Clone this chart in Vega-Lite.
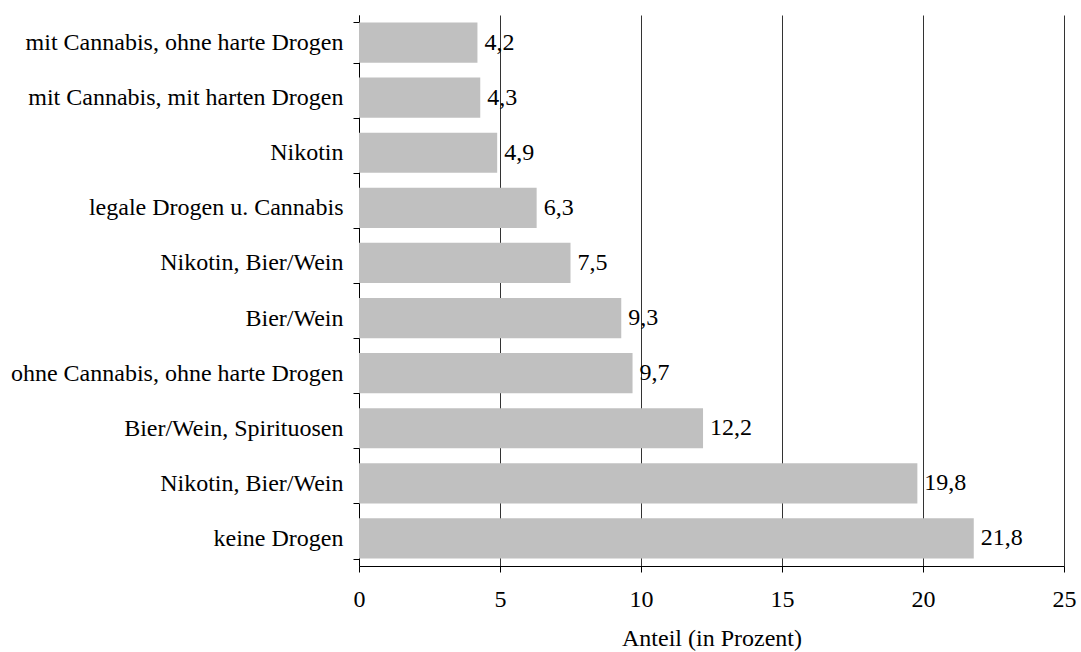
{
  "$schema": "https://vega.github.io/schema/vega-lite/v6.json",
  "autosize": {"type": "none"},
  "padding": {"left": 359, "top": 15, "right": 17, "bottom": 86},
  "width": 705,
  "height": 551,
  "config": {
    "font": "Liberation Serif",
    "view": {"stroke": null},
    "locale": {"number": {"decimal": ",", "thousands": ".", "grouping": [3], "currency": ["", " €"]}}
  },
  "data": {
    "values": [
      {"kategorie": "mit Cannabis, ohne harte Drogen", "anteil": 4.2},
      {"kategorie": "mit Cannabis, mit harten Drogen", "anteil": 4.3},
      {"kategorie": "Nikotin", "anteil": 4.9},
      {"kategorie": "legale Drogen u. Cannabis", "anteil": 6.3},
      {"kategorie": "Nikotin, Bier/Wein", "anteil": 7.5},
      {"kategorie": "Bier/Wein", "anteil": 9.3},
      {"kategorie": "ohne Cannabis, ohne harte Drogen", "anteil": 9.7},
      {"kategorie": "Bier/Wein, Spirituosen", "anteil": 12.2},
      {"kategorie": "Nikotin, Bier/Wein ", "anteil": 19.8},
      {"kategorie": "keine Drogen", "anteil": 21.8}
    ]
  },
  "encoding": {
    "y": {
      "field": "kategorie",
      "type": "nominal",
      "sort": null,
      "scale": {"paddingInner": 0.27, "paddingOuter": 0.135},
      "axis": {
        "title": null,
        "labelExpr": "trim(datum.label)",
        "labelFontSize": 24,
        "labelColor": "#000000",
        "labelPadding": 10,
        "labelLimit": 400,
        "tickBand": "extent",
        "tickSize": 6,
        "tickColor": "#000000",
        "domainColor": "#000000",
        "grid": false
      }
    },
    "x": {
      "field": "anteil",
      "type": "quantitative",
      "scale": {"domain": [0, 25], "nice": false},
      "axis": {
        "title": "Anteil (in Prozent)",
        "titleFontSize": 24,
        "titleFontWeight": "normal",
        "titleColor": "#000000",
        "titlePadding": 15,
        "values": [0, 5, 10, 15, 20, 25],
        "format": "d",
        "labelFlush": false,
        "labelFontSize": 24,
        "labelColor": "#000000",
        "labelPadding": 15,
        "tickSize": 6,
        "tickColor": "#000000",
        "domainColor": "#000000",
        "grid": true,
        "gridColor": "#333333",
        "gridOpacity": 1,
        "gridWidth": 1
      }
    }
  },
  "layer": [
    {"mark": {"type": "bar", "color": "#C0C0C0"}},
    {
      "mark": {"type": "text", "align": "left", "baseline": "middle", "dx": 7, "dy": 0, "fontSize": 24, "color": "#000000"},
      "encoding": {"text": {"field": "anteil", "type": "quantitative", "format": ".1f"}}
    }
  ]
}
